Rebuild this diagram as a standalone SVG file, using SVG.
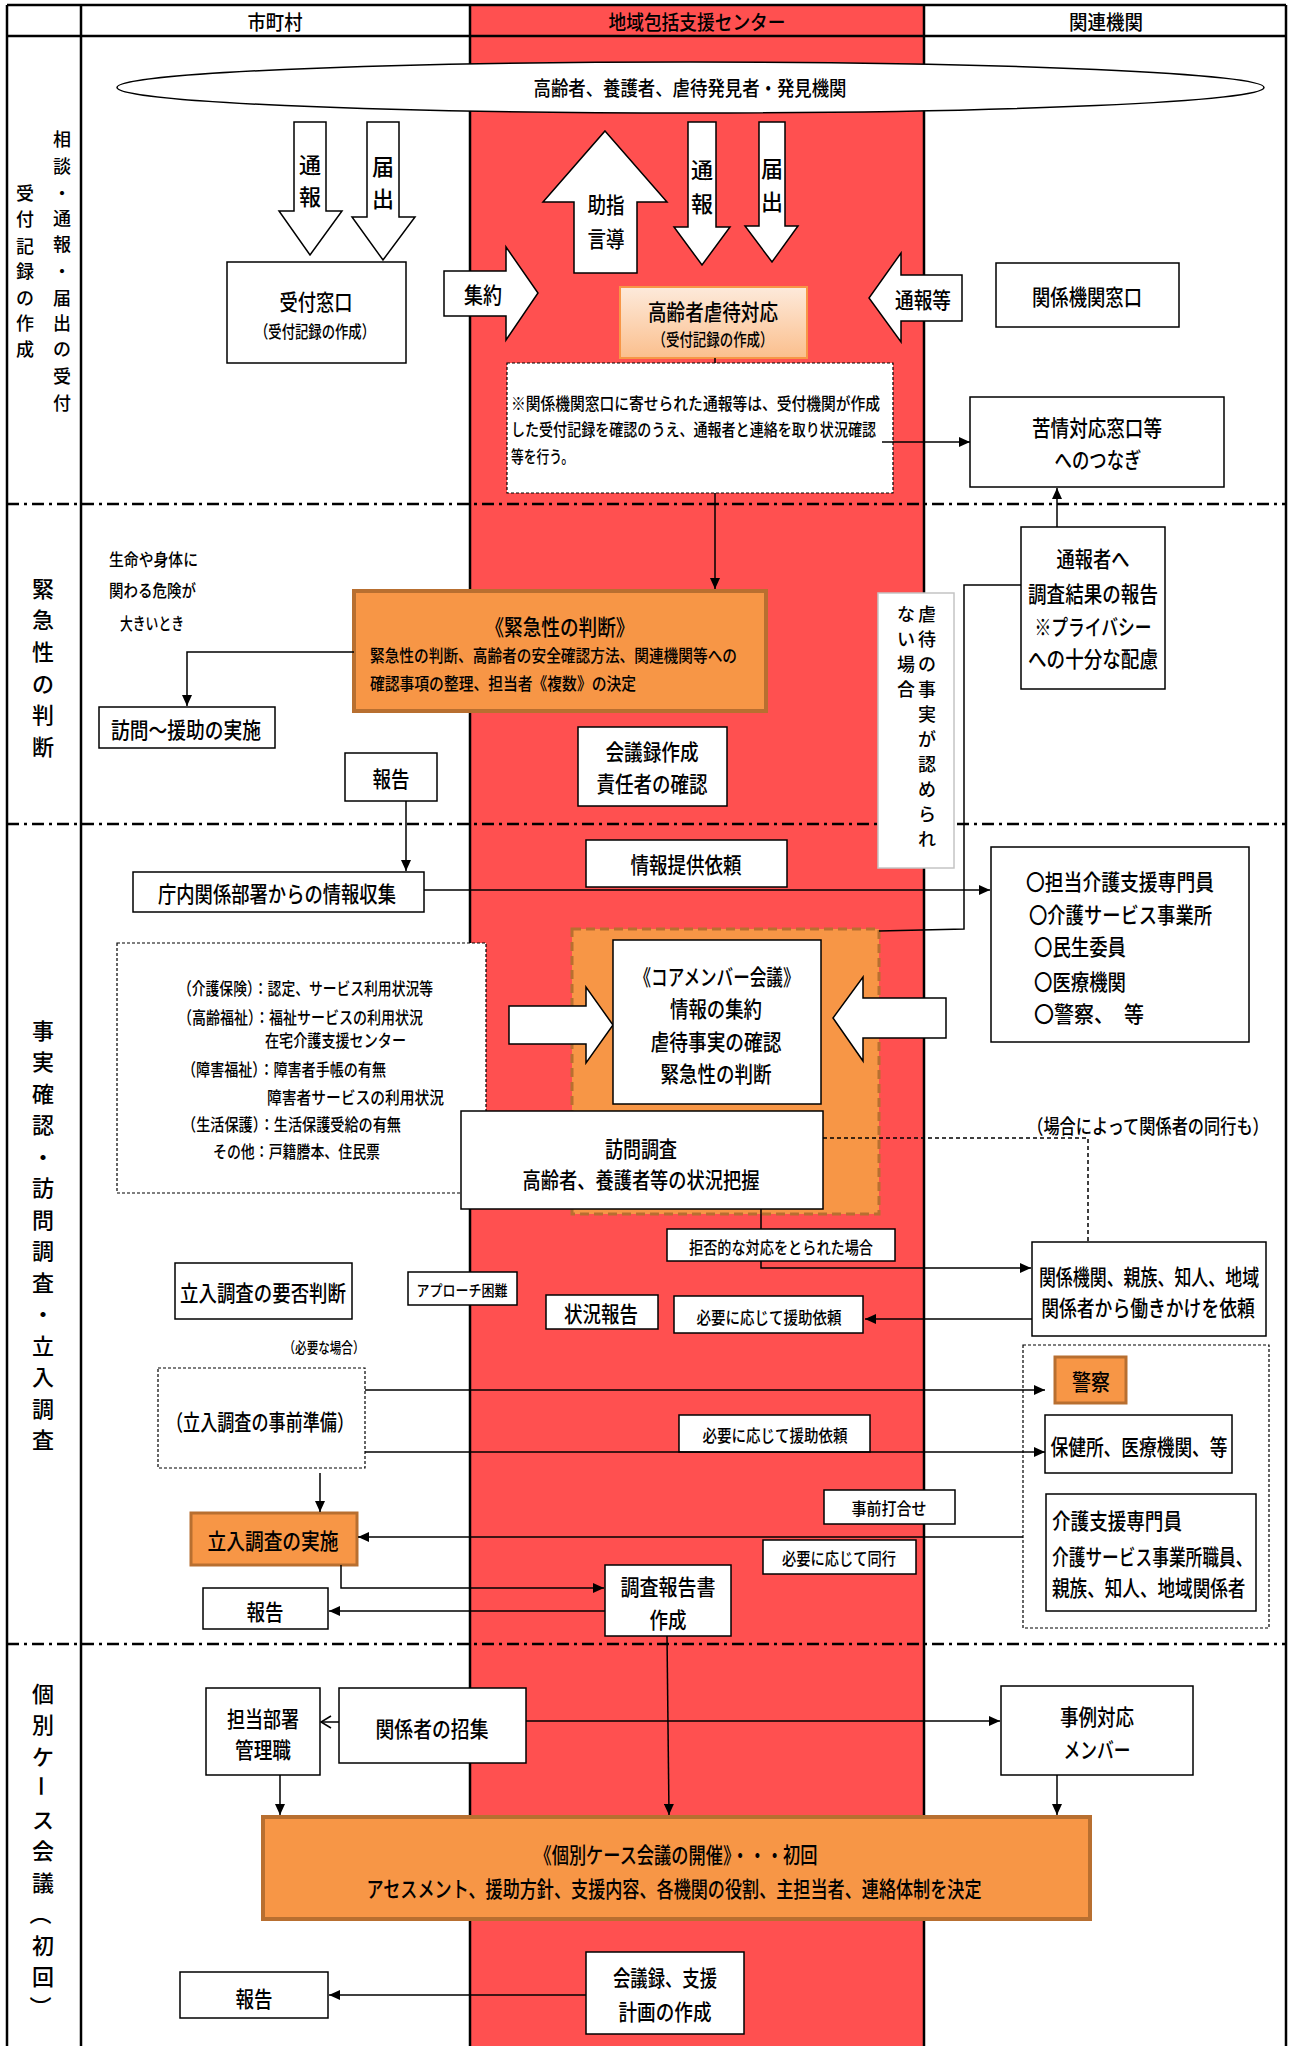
<svg xmlns="http://www.w3.org/2000/svg" width="1289" height="2046" viewBox="0 0 1289 2046">
<style>
text{font-family:'Noto Sans CJK JP','Noto Sans CJK SC',sans-serif;fill:#000;dominant-baseline:central;font-weight:500}
.c{text-anchor:middle}
.L{font-size:22px}
.M{font-size:20px}
.V{font-size:18px}
.S{font-size:17.5px}
.XS{font-size:15px}
.b{fill:#fff;stroke:#000;stroke-width:1.5}
.o{fill:#f79646;stroke:#b86f30;stroke-width:4}
.o3{fill:#f79646;stroke:#b86f30;stroke-width:3}
.ln{fill:none;stroke:#000;stroke-width:1.5}
.tbl{stroke:#000;stroke-width:2.5;fill:none}
.dd{stroke:#000;stroke-width:2.5;stroke-dasharray:12 5 3 5;fill:none}
.dash{fill:#fff;stroke:#000;stroke-width:1.2;stroke-dasharray:3 2}
</style>
<defs>
<marker id="ah" markerUnits="userSpaceOnUse" markerWidth="12" markerHeight="10" refX="11" refY="5" orient="auto"><path d="M0,0 L11,5 L0,10 z" fill="#000"/></marker>
<marker id="oa" markerUnits="userSpaceOnUse" markerWidth="12" markerHeight="14" refX="11" refY="7" orient="auto"><path d="M1,1 L11,7 L1,13" fill="none" stroke="#000" stroke-width="1.5"/></marker>
<linearGradient id="pg" x1="0" y1="0" x2="0" y2="1"><stop offset="0" stop-color="#fdeadb"/><stop offset="1" stop-color="#fbbf8d"/></linearGradient>
</defs>

<!-- table -->
<g id="table">
<rect x="470" y="5" width="454" height="2041" fill="#ff5050"/>
<line class="tbl" x1="7" y1="5" x2="1286" y2="5"/>
<line class="tbl" x1="7" y1="36" x2="1286" y2="36"/>
<line class="tbl" x1="7" y1="5" x2="7" y2="2046"/>
<line class="tbl" x1="81" y1="5" x2="81" y2="2046"/>
<line class="tbl" x1="470" y1="5" x2="470" y2="2046"/>
<line class="tbl" x1="924" y1="5" x2="924" y2="2046"/>
<line class="tbl" x1="1286" y1="5" x2="1286" y2="2046"/>
<line class="dd" x1="7" y1="504" x2="1286" y2="504"/>
<line class="dd" x1="7" y1="824" x2="1286" y2="824"/>
<line class="dd" x1="7" y1="1644" x2="1286" y2="1644"/>
<text class="c M" x="275" y="21" textLength="55" lengthAdjust="spacingAndGlyphs">市町村</text>
<text class="c M" x="697" y="21" textLength="177" lengthAdjust="spacingAndGlyphs">地域包括支援センター</text>
<text class="c M" x="1106" y="21" textLength="74" lengthAdjust="spacingAndGlyphs">関連機関</text>
</g>

<!-- section labels -->
<g id="labels">
<text class="c V" x="25"><tspan x="25" y="192">受</tspan><tspan x="25" y="218">付</tspan><tspan x="25" y="245">記</tspan><tspan x="25" y="270">録</tspan><tspan x="25" y="297">の</tspan><tspan x="25" y="322">作</tspan><tspan x="25" y="348">成</tspan></text>
<text class="c V" x="62"><tspan x="62" y="138">相</tspan><tspan x="62" y="165">談</tspan><tspan x="62" y="192">・</tspan><tspan x="62" y="217">通</tspan><tspan x="62" y="243">報</tspan><tspan x="62" y="270">・</tspan><tspan x="62" y="297">届</tspan><tspan x="62" y="322">出</tspan><tspan x="62" y="348">の</tspan><tspan x="62" y="375">受</tspan><tspan x="62" y="402">付</tspan></text>
<text class="c L" x="43"><tspan x="43" y="587">緊</tspan><tspan x="43" y="618">急</tspan><tspan x="43" y="650">性</tspan><tspan x="43" y="682">の</tspan><tspan x="43" y="713">判</tspan><tspan x="43" y="745">断</tspan></text>
<text class="c L" x="43"><tspan x="43" y="1029">事</tspan><tspan x="43" y="1060">実</tspan><tspan x="43" y="1092">確</tspan><tspan x="43" y="1123">認</tspan><tspan x="43" y="1155">・</tspan><tspan x="43" y="1186">訪</tspan><tspan x="43" y="1218">問</tspan><tspan x="43" y="1249">調</tspan><tspan x="43" y="1281">査</tspan><tspan x="43" y="1312">・</tspan><tspan x="43" y="1344">立</tspan><tspan x="43" y="1375">入</tspan><tspan x="43" y="1407">調</tspan><tspan x="43" y="1438">査</tspan></text>
<text class="c L" x="43"><tspan x="43" y="1692">個</tspan><tspan x="43" y="1723">別</tspan><tspan x="43" y="1755">ケ</tspan><tspan x="43" y="1818">ス</tspan><tspan x="43" y="1849">会</tspan><tspan x="43" y="1881">議</tspan><tspan x="43" y="1944">初</tspan><tspan x="43" y="1975">回</tspan></text>
<text class="c L" x="43" y="1786" transform="rotate(90 43 1786)">ー</text>
<text class="c L" x="43" y="1914" transform="rotate(90 43 1914)">（</text>
<text class="c L" x="43" y="2007" transform="rotate(90 43 2007)">）</text>
</g>

<!-- section 1 -->
<g id="n-ellipse">
<ellipse cx="690.5" cy="87.5" rx="573.5" ry="25.5" class="b"/>
<text class="c M" x="690" y="87" textLength="313" lengthAdjust="spacingAndGlyphs">高齢者、養護者、虐待発見者・発見機関</text>
</g>
<g id="a-tsuho1">
<polygon class="b" points="294,122 326,122 326,211 342,211 310,255 279,211 294,211"/>
<text class="c L" x="310"><tspan x="310" y="163">通</tspan><tspan x="310" y="195">報</tspan></text>
</g>
<g id="a-todokede1">
<polygon class="b" points="367,122 399,122 399,217 415,217 383,260 352,217 367,217"/>
<text class="c L" x="383"><tspan x="383" y="165">届</tspan><tspan x="383" y="197">出</tspan></text>
</g>
<g id="a-shido">
<polygon class="b" points="605,131 667,202 637,202 637,273 574,273 574,202 543,202"/>
<text class="c L" x="606" y="203" textLength="37" lengthAdjust="spacingAndGlyphs">助指</text>
<text class="c L" x="606" y="237" textLength="37" lengthAdjust="spacingAndGlyphs">言導</text>
</g>
<g id="a-tsuho2">
<polygon class="b" points="688,122 716,122 716,227 730,227 702,265 674,227 688,227"/>
<text class="c L" x="702"><tspan x="702" y="168">通</tspan><tspan x="702" y="202">報</tspan></text>
</g>
<g id="a-todokede2">
<polygon class="b" points="759,122 785,122 785,226 798,226 772,262 745,226 759,226"/>
<text class="c L" x="772"><tspan x="772" y="167">届</tspan><tspan x="772" y="200">出</tspan></text>
</g>
<g id="a-shuyaku">
<polygon class="b" points="444,271 506,271 506,247 538,293 506,340 506,316 444,316"/>
<text class="c L" x="483" y="293" textLength="38" lengthAdjust="spacingAndGlyphs">集約</text>
</g>
<g id="a-tsuhoto">
<polygon class="b" points="962,275 901,275 901,253 869,298 901,342 901,321 962,321"/>
<text class="c L" x="923" y="298" textLength="56" lengthAdjust="spacingAndGlyphs">通報等</text>
</g>
<g id="n-uketsuke">
<rect class="b" x="227" y="262" width="179" height="101"/>
<text class="c L" x="316" y="300" textLength="73" lengthAdjust="spacingAndGlyphs">受付窓口</text>
<text class="c S" x="315" y="330" textLength="120" lengthAdjust="spacingAndGlyphs">（受付記録の作成）</text>
</g>
<g id="n-gyakutai">
<rect x="620" y="287" width="187" height="71" fill="url(#pg)" stroke="#f79646" stroke-width="2"/>
<text class="c L" x="713" y="310" textLength="130" lengthAdjust="spacingAndGlyphs">高齢者虐待対応</text>
<text class="c S" x="713" y="338" textLength="121" lengthAdjust="spacingAndGlyphs">（受付記録の作成）</text>
</g>
<g id="n-kankeikikan">
<rect class="b" x="996" y="263" width="183" height="64"/>
<text class="c L" x="1087" y="295" textLength="110" lengthAdjust="spacingAndGlyphs">関係機関窓口</text>
</g>
<g id="n-note">
<rect class="dash" x="507" y="363" width="386" height="130"/>
<text class="S" x="511" y="402" textLength="369" lengthAdjust="spacingAndGlyphs">※関係機関窓口に寄せられた通報等は、受付機関が作成</text>
<text class="S" x="511" y="428" textLength="365" lengthAdjust="spacingAndGlyphs">した受付記録を確認のうえ、通報者と連絡を取り状況確認</text>
<text class="S" x="511" y="455" textLength="63" lengthAdjust="spacingAndGlyphs">等を行う。</text>
</g>
<g id="n-kujo">
<rect class="b" x="970" y="397" width="254" height="90"/>
<text class="c L" x="1097" y="426" textLength="130" lengthAdjust="spacingAndGlyphs">苦情対応窓口等</text>
<text class="c L" x="1098" y="458" textLength="87" lengthAdjust="spacingAndGlyphs">へのつなぎ</text>
</g>

<!-- section 2 -->
<g id="n-kiken">
<text class="S" x="109" y="558" textLength="89" lengthAdjust="spacingAndGlyphs">生命や身体に</text>
<text class="S" x="109" y="589" textLength="87" lengthAdjust="spacingAndGlyphs">関わる危険が</text>
<text class="S" x="120" y="622" textLength="64" lengthAdjust="spacingAndGlyphs">大きいとき</text>
</g>
<g id="n-kinkyu">
<rect class="o" x="354" y="591" width="412" height="120"/>
<text class="c L" x="560" y="625" textLength="149" lengthAdjust="spacingAndGlyphs">《緊急性の判断》</text>
<text class="S" x="370" y="654" textLength="367" lengthAdjust="spacingAndGlyphs">緊急性の判断、高齢者の安全確認方法、関連機関等への</text>
<text class="S" x="370" y="682" textLength="266" lengthAdjust="spacingAndGlyphs">確認事項の整理、担当者《複数》の決定</text>
</g>
<g id="n-homon-enjo">
<rect class="b" x="99" y="707" width="176" height="41"/>
<text class="c L" x="186" y="728" textLength="150" lengthAdjust="spacingAndGlyphs">訪問～援助の実施</text>
</g>
<g id="n-hokoku1">
<rect class="b" x="345" y="753" width="92" height="48"/>
<text class="c L" x="391" y="777" textLength="37" lengthAdjust="spacingAndGlyphs">報告</text>
</g>
<g id="n-kaigiroku1">
<rect class="b" x="578" y="727" width="149" height="79"/>
<text class="c L" x="652" y="750" textLength="93" lengthAdjust="spacingAndGlyphs">会議録作成</text>
<text class="c L" x="652" y="782" textLength="111" lengthAdjust="spacingAndGlyphs">責任者の確認</text>
</g>
<g id="n-tsuhosha">
<rect class="b" x="1021" y="527" width="144" height="162"/>
<text class="c L" x="1093" y="557" textLength="73" lengthAdjust="spacingAndGlyphs">通報者へ</text>
<text class="c L" x="1093" y="592" textLength="130" lengthAdjust="spacingAndGlyphs">調査結果の報告</text>
<text class="c L" x="1093" y="625" textLength="117" lengthAdjust="spacingAndGlyphs">※プライバシー</text>
<text class="c L" x="1093" y="657" textLength="130" lengthAdjust="spacingAndGlyphs">への十分な配慮</text>
</g>
<g id="n-mitomerarenai">
<rect x="878" y="593" width="76" height="275" fill="#fff" stroke="#c4c4c4" stroke-width="1.5"/>
<text class="c V" x="927"><tspan x="927" y="613">虐</tspan><tspan x="927" y="638">待</tspan><tspan x="927" y="663">の</tspan><tspan x="927" y="688">事</tspan><tspan x="927" y="713">実</tspan><tspan x="927" y="738">が</tspan><tspan x="927" y="763">認</tspan><tspan x="927" y="788">め</tspan><tspan x="927" y="813">ら</tspan><tspan x="927" y="838">れ</tspan></text>
<text class="c V" x="906"><tspan x="906" y="613">な</tspan><tspan x="906" y="638">い</tspan><tspan x="906" y="663">場</tspan><tspan x="906" y="688">合</tspan></text>
</g>

<!-- section 3 -->
<g id="n-johoirai">
<rect class="b" x="586" y="840" width="201" height="47"/>
<text class="c L" x="686" y="863" textLength="111" lengthAdjust="spacingAndGlyphs">情報提供依頼</text>
</g>
<g id="n-chonai">
<rect class="b" x="133" y="872" width="291" height="40"/>
<text class="c L" x="277" y="892" textLength="238" lengthAdjust="spacingAndGlyphs">庁内関係部署からの情報収集</text>
</g>
<g id="n-tanto-list">
<rect class="b" x="991" y="847" width="258" height="195"/>
<text class="L" x="1026" y="880" textLength="188" lengthAdjust="spacingAndGlyphs">〇担当介護支援専門員</text>
<text class="L" x="1029" y="913" textLength="183" lengthAdjust="spacingAndGlyphs">〇介護サービス事業所</text>
<text class="L" x="1034" y="945" textLength="92" lengthAdjust="spacingAndGlyphs">〇民生委員</text>
<text class="L" x="1034" y="980" textLength="92" lengthAdjust="spacingAndGlyphs">〇医療機関</text>
<text class="L" x="1034" y="1012" textLength="110" lengthAdjust="spacingAndGlyphs">〇警察、　等</text>
</g>
<g id="n-info">
<rect class="dash" x="117" y="943" width="369" height="250"/>
<text class="S" x="178" y="987" textLength="255" lengthAdjust="spacingAndGlyphs">（介護保険）：認定、サービス利用状況等</text>
<text class="S" x="178" y="1016" textLength="245" lengthAdjust="spacingAndGlyphs">（高齢福祉）：福祉サービスの利用状況</text>
<text class="S" x="265" y="1039" textLength="141" lengthAdjust="spacingAndGlyphs">在宅介護支援センター</text>
<text class="S" x="182" y="1068" textLength="204" lengthAdjust="spacingAndGlyphs">（障害福祉）：障害者手帳の有無</text>
<text class="S" x="267" y="1096" textLength="177" lengthAdjust="spacingAndGlyphs">障害者サービスの利用状況</text>
<text class="S" x="182" y="1123" textLength="219" lengthAdjust="spacingAndGlyphs">（生活保護）：生活保護受給の有無</text>
<text class="S" x="213" y="1150" textLength="167" lengthAdjust="spacingAndGlyphs">その他：戸籍謄本、住民票</text>
</g>
<g id="n-core-area">
<rect x="572" y="929" width="307" height="285" fill="#f79646" stroke="#b86f30" stroke-width="3" stroke-dasharray="9 5"/>
</g>
<g id="a-core-left">
<polygon class="b" points="509,1006 586,1006 586,987 613,1025 586,1063 586,1044 509,1044"/>
</g>
<g id="a-core-right">
<polygon class="b" points="946,998 863,998 863,977 833,1018 863,1061 863,1038 946,1038"/>
</g>
<g id="n-core">
<rect class="b" x="613" y="940" width="208" height="164"/>
<text class="c L" x="717" y="975" font-weight="bold" textLength="165" lengthAdjust="spacingAndGlyphs">《コアメンバー会議》</text>
<text class="c L" x="716" y="1007" textLength="92" lengthAdjust="spacingAndGlyphs">情報の集約</text>
<text class="c L" x="716" y="1040" textLength="131" lengthAdjust="spacingAndGlyphs">虐待事実の確認</text>
<text class="c L" x="716" y="1072" textLength="111" lengthAdjust="spacingAndGlyphs">緊急性の判断</text>
</g>
<g id="n-homonchosa">
<rect class="b" x="461" y="1111" width="362" height="98"/>
<text class="c L" x="641" y="1147" textLength="72" lengthAdjust="spacingAndGlyphs">訪問調査</text>
<text class="c L" x="641" y="1178" textLength="237" lengthAdjust="spacingAndGlyphs">高齢者、養護者等の状況把握</text>
</g>
<g id="n-dokou">
<text class="c M" x="0" y="0" transform="translate(1148,1125) scale(0.81,1)">（場合によって関係者の同行も）</text>
</g>
<g id="n-kyohi">
<rect class="b" x="667" y="1229" width="228" height="32"/>
<text class="c S" x="781" y="1246" textLength="184" lengthAdjust="spacingAndGlyphs">拒否的な対応をとられた場合</text>
</g>
<g id="n-shinzoku">
<rect class="b" x="1032" y="1242" width="234" height="94"/>
<text class="c L" x="0" y="0" transform="translate(1149,1275) scale(0.77,1)">関係機関、親族、知人、地域</text>
<text class="c L" x="0" y="0" transform="translate(1148,1307) scale(0.81,1)">関係者から働きかけを依頼</text>
</g>
<g id="n-enjo1">
<rect class="b" x="674" y="1296" width="189" height="37"/>
<text class="c S" x="769" y="1316" textLength="145" lengthAdjust="spacingAndGlyphs">必要に応じて援助依頼</text>
</g>
<g id="n-jokyo">
<rect class="b" x="546" y="1295" width="112" height="34"/>
<text class="c L" x="601" y="1312" textLength="74" lengthAdjust="spacingAndGlyphs">状況報告</text>
</g>
<g id="n-yohi">
<rect class="b" x="175" y="1263" width="177" height="56"/>
<text class="c L" x="263" y="1291" textLength="166" lengthAdjust="spacingAndGlyphs">立入調査の要否判断</text>
</g>
<g id="n-approach">
<rect class="b" x="408" y="1272" width="109" height="33"/>
<text class="c XS" x="462" y="1289" textLength="91" lengthAdjust="spacingAndGlyphs">アプローチ困難</text>
</g>
<g id="n-hitsuyo">
<text class="c XS" x="324" y="1346" textLength="81" lengthAdjust="spacingAndGlyphs">（必要な場合）</text>
</g>
<g id="n-jizen">
<rect class="dash" x="158" y="1368" width="207" height="100"/>
<text class="c L" x="260" y="1420" textLength="188" lengthAdjust="spacingAndGlyphs">（立入調査の事前準備）</text>
</g>
<g id="n-group-right">
<rect class="dash" x="1023" y="1345" width="246" height="283"/>
</g>
<g id="n-keisatsu">
<rect class="o3" x="1055" y="1357" width="71" height="46"/>
<text class="c L" x="1091" y="1380" textLength="38" lengthAdjust="spacingAndGlyphs">警察</text>
</g>
<g id="n-enjo2">
<rect class="b" x="679" y="1415" width="191" height="37"/>
<text class="c S" x="775" y="1434" textLength="145" lengthAdjust="spacingAndGlyphs">必要に応じて援助依頼</text>
</g>
<g id="n-hokenjo">
<rect class="b" x="1045" y="1415" width="187" height="58"/>
<text class="c L" x="1139" y="1445" textLength="177" lengthAdjust="spacingAndGlyphs">保健所、医療機関、等</text>
</g>
<g id="n-uchiawase">
<rect class="b" x="824" y="1490" width="131" height="34"/>
<text class="c S" x="889" y="1507" textLength="75" lengthAdjust="spacingAndGlyphs">事前打合せ</text>
</g>
<g id="n-doko">
<rect class="b" x="763" y="1540" width="153" height="34"/>
<text class="c S" x="839" y="1557" textLength="114" lengthAdjust="spacingAndGlyphs">必要に応じて同行</text>
</g>
<g id="n-kaigoshien">
<rect class="b" x="1046" y="1494" width="210" height="117"/>
<text class="L" x="1052" y="1519" textLength="130" lengthAdjust="spacingAndGlyphs">介護支援専門員</text>
<text class="L" x="0" y="0" transform="translate(1052,1555) scale(0.76,1)">介護サービス事業所職員、</text>
<text class="L" x="0" y="0" transform="translate(1052,1587) scale(0.8,1)">親族、知人、地域関係者</text>
</g>
<g id="n-tachiiri">
<rect class="o3" x="191" y="1513" width="166" height="52"/>
<text class="c L" x="273" y="1539" textLength="131" lengthAdjust="spacingAndGlyphs">立入調査の実施</text>
</g>
<g id="n-hokoku3">
<rect class="b" x="203" y="1588" width="125" height="41"/>
<text class="c L" x="265" y="1610" textLength="37" lengthAdjust="spacingAndGlyphs">報告</text>
</g>
<g id="n-chosahokoku">
<rect class="b" x="605" y="1565" width="126" height="71"/>
<text class="c L" x="668" y="1585" textLength="95" lengthAdjust="spacingAndGlyphs">調査報告書</text>
<text class="c L" x="668" y="1618" textLength="37" lengthAdjust="spacingAndGlyphs">作成</text>
</g>

<!-- section 4 -->
<g id="n-tantobusho">
<rect class="b" x="206" y="1688" width="114" height="87"/>
<text class="c L" x="263" y="1717" textLength="72" lengthAdjust="spacingAndGlyphs">担当部署</text>
<text class="c L" x="263" y="1748" textLength="56" lengthAdjust="spacingAndGlyphs">管理職</text>
</g>
<g id="n-shoshu">
<rect class="b" x="339" y="1688" width="187" height="75"/>
<text class="c L" x="432" y="1727" textLength="113" lengthAdjust="spacingAndGlyphs">関係者の招集</text>
</g>
<g id="n-jirei">
<rect class="b" x="1001" y="1686" width="192" height="89"/>
<text class="c L" x="1097" y="1715" textLength="74" lengthAdjust="spacingAndGlyphs">事例対応</text>
<text class="c L" x="1097" y="1748" textLength="67" lengthAdjust="spacingAndGlyphs">メンバー</text>
</g>
<g id="n-kobetsu">
<rect class="o" x="263" y="1817" width="827" height="102"/>
<text class="c L" x="676" y="1853" textLength="283" lengthAdjust="spacingAndGlyphs">《個別ケース会議の開催》・・・初回</text>
<text class="c L" x="674" y="1887" textLength="615" lengthAdjust="spacingAndGlyphs">アセスメント、援助方針、支援内容、各機関の役割、主担当者、連絡体制を決定</text>
</g>
<g id="n-hokoku4">
<rect class="b" x="180" y="1972" width="148" height="46"/>
<text class="c L" x="254" y="1997" textLength="37" lengthAdjust="spacingAndGlyphs">報告</text>
</g>
<g id="n-kaigiroku2">
<rect class="b" x="586" y="1952" width="158" height="82"/>
<text class="c L" x="665" y="1976" textLength="104" lengthAdjust="spacingAndGlyphs">会議録、支援</text>
<text class="c L" x="665" y="2010" textLength="93" lengthAdjust="spacingAndGlyphs">計画の作成</text>
</g>

<!-- connectors -->
<g id="connectors">
<line class="ln" x1="715" y1="358" x2="715" y2="363"/>
<line class="ln" x1="715" y1="493" x2="715" y2="589" marker-end="url(#ah)"/>
<line class="ln" x1="882" y1="442" x2="970" y2="442" marker-end="url(#ah)"/>
<line class="ln" x1="1057" y1="527" x2="1057" y2="488" marker-end="url(#ah)"/>
<polyline class="ln" points="879,931 964,929 964,585 1021,585"/>
<polyline class="ln" points="354,652 187,652 187,706" marker-end="url(#ah)"/>
<line class="ln" x1="406" y1="801" x2="406" y2="871" marker-end="url(#ah)"/>
<line class="ln" x1="424" y1="890" x2="990" y2="890" marker-end="url(#ah)"/>
<polyline class="ln" points="823,1138 1088,1138 1088,1242" stroke-dasharray="4 3"/>
<line class="ln" x1="761" y1="1209" x2="761" y2="1229"/>
<polyline class="ln" points="761,1261 761,1268 1031,1268" marker-end="url(#ah)"/>
<line class="ln" x1="1032" y1="1319" x2="865" y2="1319" marker-end="url(#ah)"/>
<line class="ln" x1="365" y1="1390" x2="1045" y2="1390" marker-end="url(#ah)"/>
<line class="ln" x1="365" y1="1452" x2="1045" y2="1452" marker-end="url(#ah)"/>
<line class="ln" x1="320" y1="1473" x2="320" y2="1512" marker-end="url(#ah)"/>
<line class="ln" x1="1023" y1="1537" x2="358" y2="1537" marker-end="url(#ah)"/>
<polyline class="ln" points="341,1565 341,1588 604,1588" marker-end="url(#ah)"/>
<line class="ln" x1="605" y1="1611" x2="329" y2="1611" marker-end="url(#ah)"/>
<line class="ln" x1="667" y1="1636" x2="669" y2="1815" marker-end="url(#ah)"/>
<line class="ln" x1="339" y1="1722" x2="321" y2="1722" marker-end="url(#oa)"/>
<line class="ln" x1="526" y1="1721" x2="1000" y2="1721" marker-end="url(#ah)"/>
<line class="ln" x1="280" y1="1775" x2="280" y2="1815" marker-end="url(#ah)"/>
<line class="ln" x1="1057" y1="1775" x2="1057" y2="1815" marker-end="url(#ah)"/>
<line class="ln" x1="586" y1="1995" x2="329" y2="1995" marker-end="url(#ah)"/>
</g>
</svg>
